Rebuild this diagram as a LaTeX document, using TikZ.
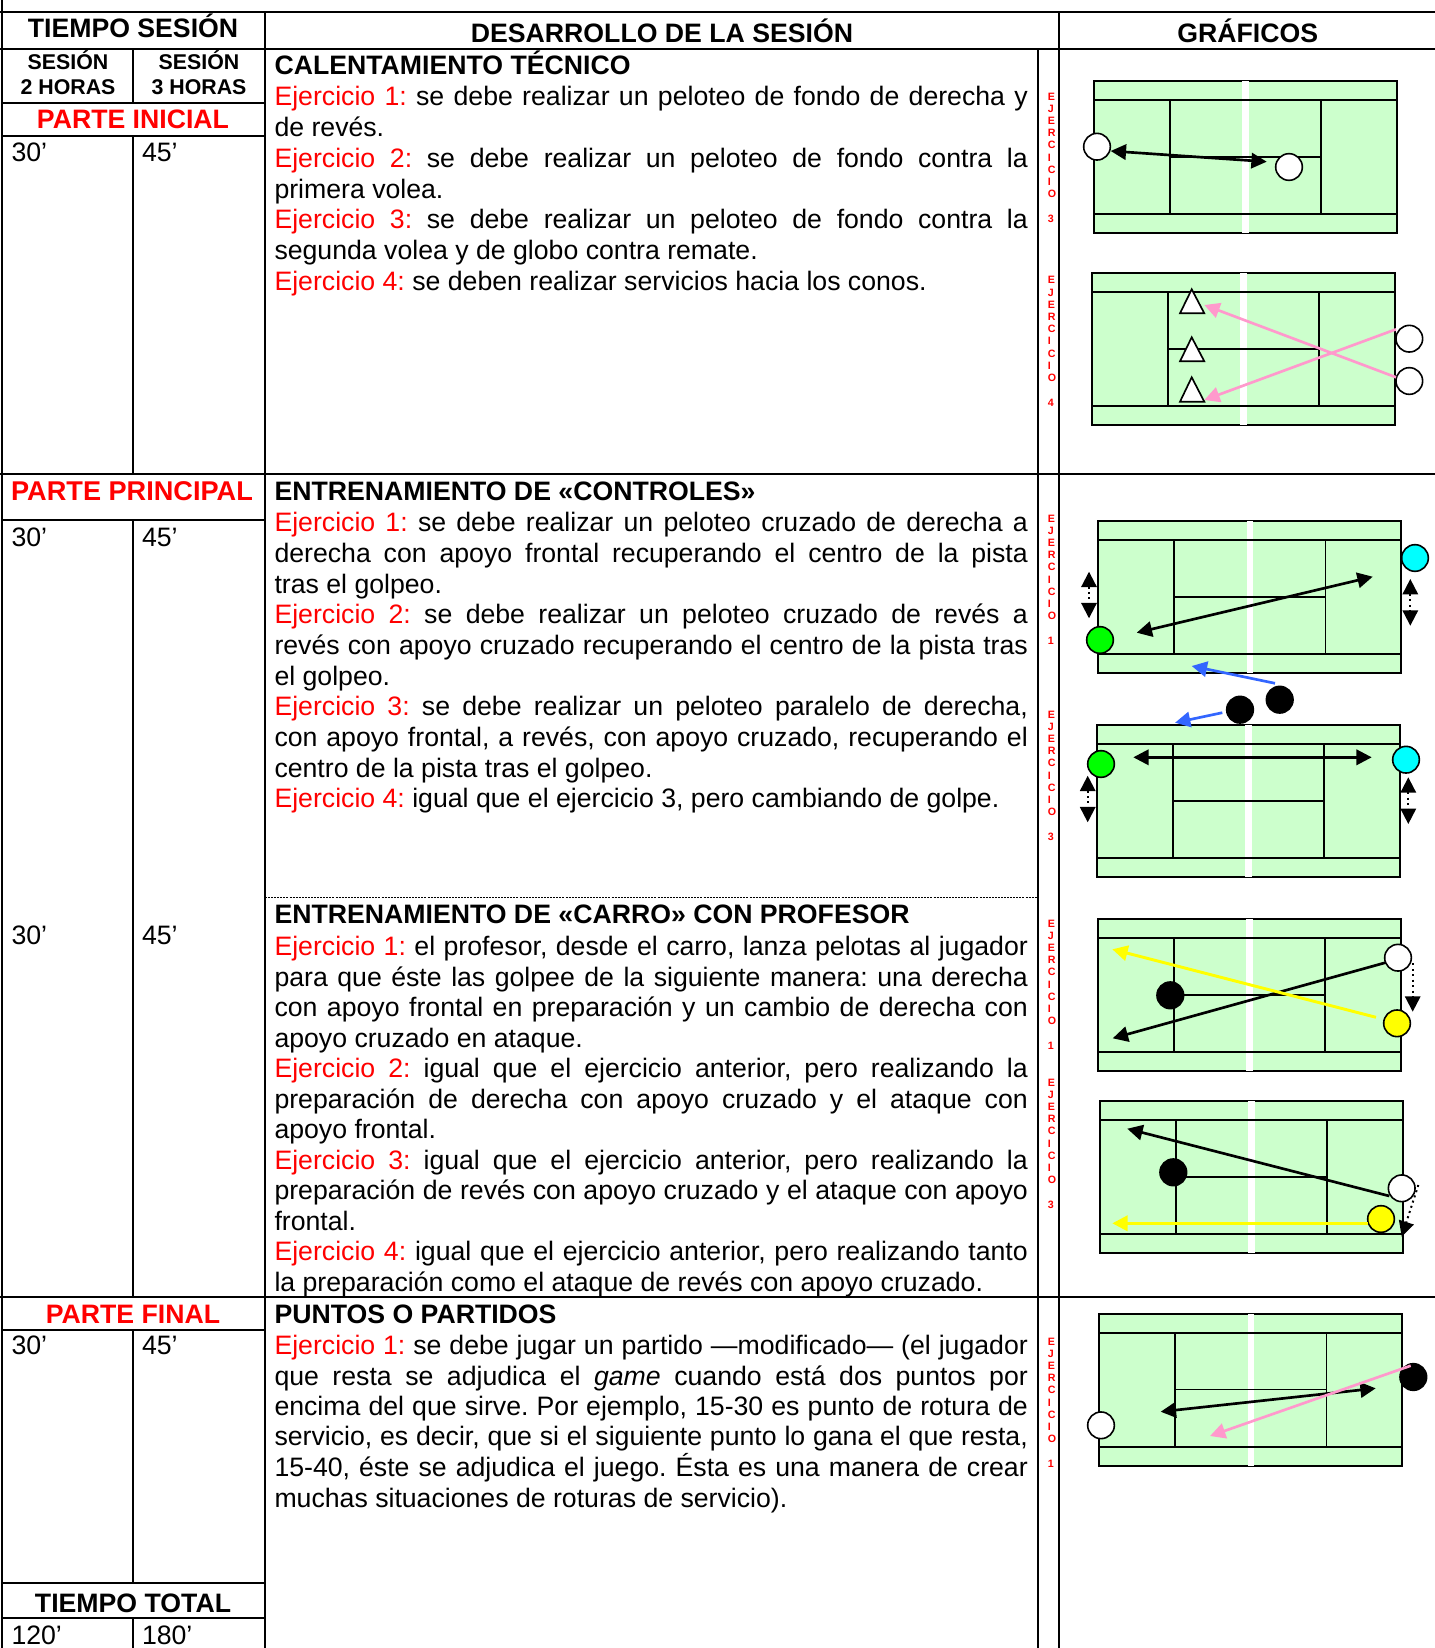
\documentclass[tikz,border=0pt]{standalone}
\usepackage{fontspec}
\setmainfont{Liberation Sans}
\usetikzlibrary{arrows.meta,shapes.geometric}
\definecolor{courtgreen}{HTML}{CCFFCC}
\definecolor{shotpink}{HTML}{FF99CC}
\definecolor{shotblue}{HTML}{3366FF}
\definecolor{cyanp}{HTML}{00FFFF}
\definecolor{greenp}{HTML}{00FF00}
\definecolor{yellowp}{HTML}{FFFF00}
\definecolor{redt}{HTML}{FF0000}
\frenchspacing
\tikzset{
  x=0.75pt,y=-0.75pt,
  rule/.style={line width=1.5pt,line cap=rect},
  txt/.style={anchor=base west,inner sep=0pt,outer sep=0pt,font=\fontsize{20}{23}\selectfont\frenchspacing},
  ctxt/.style={anchor=base,inner sep=0pt,outer sep=0pt,font=\fontsize{20}{23}\selectfont\bfseries},
  small/.style={anchor=base,inner sep=0pt,outer sep=0pt,font=\fontsize{16}{18}\selectfont\bfseries},
  courtline/.style={line width=1.25pt,draw=black},
  player/.style={circle,draw=black,line width=1.2pt,minimum size=20pt,inner sep=0pt,outer sep=0pt,fill=white},
  cone/.style={line width=1.25pt,draw=black,fill=white,line join=miter},
  shot/.style={line width=2pt,-{Triangle[length=11.5pt,width=11.5pt]},draw=black},
  dshot/.style={line width=2pt,{Triangle[length=11.5pt,width=11.5pt]}-{Triangle[length=11.5pt,width=11.5pt]},draw=black},
  pshot/.style={line width=2pt,-{Triangle[length=11.5pt,width=11.5pt]},draw=shotpink},
  yshot/.style={line width=2.2pt,-{Triangle[length=11.5pt,width=11.5pt]},draw=yellowp},
  bshot/.style={line width=2pt,-{Triangle[length=11.5pt,width=11.5pt]},draw=shotblue},
  move/.style={line width=1.5pt,dash pattern=on 1.5pt off 2.6pt,draw=black,-{Triangle[length=11.5pt,width=11.5pt]}},
  dmove/.style={line width=1.5pt,dash pattern=on 1.5pt off 2.6pt,draw=black,{Triangle[length=11.5pt,width=11.5pt]}-{Triangle[length=11.5pt,width=11.5pt]}},
}
\newcommand{\JL}[2]{\node[txt] at (274.5,#1) {\makebox[565pt][s]{#2}};}
\newcommand{\PL}[2]{\node[txt] at (274.5,#1) {#2};}
\newcommand{\HD}[2]{\node[txt,font=\fontsize{20}{23}\selectfont\bfseries] at (274.5,#1) {#2};}
\newcommand{\Ej}[1]{\textcolor{redt}{Ejercicio #1:}}
\newcommand{\court}[2]{%
  \begin{scope}[shift={(#1,#2)}]
    \fill[courtgreen] (0,0) rectangle (303,152);
    \draw[courtline] (0,0) rectangle (303,152);
    \fill[white] (148.4,0) rectangle (155,152);
    \draw[courtline] (0,19) -- (303,19) (0,133) -- (303,133)
      (76,19) -- (76,133) (227.3,19) -- (227.3,133) (76,75.7) -- (227.3,75.7);
  \end{scope}}
\newcommand{\VL}[2]{%
  \begin{scope}[shift={(1047.7,#1)}]
    \foreach \ch [count=\i from 0] in {E,J,E,R,C,I,C,I,O}{
      \node[anchor=base west,inner sep=0pt,text=redt,font=\fontsize{8}{9}\selectfont\bfseries] at (0,3.8+12.2*\i) {\ch};}
    \node[anchor=base west,inner sep=0pt,text=redt,font=\fontsize{8}{9}\selectfont\bfseries] at (0,3.8+122.5) {#2};
  \end{scope}}
\begin{document}
\begin{tikzpicture}
\useasboundingbox (0,0) rectangle (1434,1648);
\fill[white] (0,0) rectangle (1434,1648);
% table rules
\draw[rule] (2,0) -- (2,1648);
\draw[rule] (0,12) -- (1434,12);
\draw[rule] (0,49) -- (1434,49);
\draw[rule] (2,103) -- (265,103);
\draw[rule] (2,136) -- (265,136);
\draw[rule] (0,474) -- (1434,474);
\draw[rule] (2,520) -- (265,520);
\draw[rule] (0,1297) -- (1434,1297);
\draw[rule] (2,1330) -- (265,1330);
\draw[rule] (2,1583) -- (265,1583);
\draw[rule] (2,1618) -- (265,1618);
\draw[rule] (265,12) -- (265,1648);
\draw[rule] (1059,12) -- (1059,1648);
\draw[rule] (1038,49) -- (1038,1648);
\draw[rule] (133,49) -- (133,103);
\draw[rule] (133,136) -- (133,474);
\draw[rule] (133,520) -- (133,1297);
\draw[rule] (133,1330) -- (133,1583);
\draw[rule] (133,1618) -- (133,1648);
\draw[line width=0.6pt,dash pattern=on 1.5pt off 0.8pt] (265,897) -- (1038,897);
% headers
\node[ctxt] (h1) at (133,38) {TIEMPO SESIÓN};
\node[ctxt] (h2) at (662,42.9) {DESARROLLO DE LA SESIÓN};
\node[ctxt] (h3) at (1247.7,42.9) {GRÁFICOS};
\node[small] (s1) at (68,70) {SESIÓN};
\node[small] (s2) at (68,95) {2 HORAS};
\node[small] (s3) at (199,70) {SESIÓN};
\node[small] (s4) at (199,95) {3 HORAS};
\node[ctxt,text=redt] (p1) at (133,128.3) {PARTE INICIAL};
\node[ctxt,text=redt,font=\fontsize{20.35}{23}\selectfont\bfseries] (p2) at (132,500.5) {PARTE PRINCIPAL};
\node[ctxt,text=redt] (p3) at (133,1323.5) {PARTE FINAL};
\node[ctxt] (tt) at (133,1612.5) {TIEMPO TOTAL};
\foreach \yy/\nm in {161.7/a,546/b,944/c,1354.6/d}{
  \node[txt] (m30\nm) at (11.5,\yy) {30’};
  \node[txt] (m45\nm) at (142,\yy) {45’};}
\node[txt] (m120) at (11.5,1644) {120’};
\node[txt] (m180) at (142,1644) {180’};
% section 1
\HD{75}{CALENTAMIENTO TÉCNICO}
\JL{105.7}{\Ej{1} se debe realizar un peloteo de fondo de derecha y}
\PL{136.5}{de revés.}
\JL{167.2}{\Ej{2} se debe realizar un peloteo de fondo contra la}
\PL{198}{primera volea.}
\JL{228.8}{\Ej{3} se debe realizar un peloteo de fondo contra la}
\PL{259.6}{segunda volea y de globo contra remate.}
\PL{290.3}{\Ej{4} se deben realizar servicios hacia los conos.}
% section 2
\HD{500.5}{ENTRENAMIENTO DE «CONTROLES»}
\JL{531.8}{\Ej{1} se debe realizar un peloteo cruzado de derecha a}
\JL{562.4}{derecha con apoyo frontal recuperando el centro de la pista}
\PL{593.1}{tras el golpeo.}
\JL{623.7}{\Ej{2} se debe realizar un peloteo cruzado de revés a}
\JL{654.4}{revés con apoyo cruzado recuperando el centro de la pista tras}
\PL{685}{el golpeo.}
\JL{715.7}{\Ej{3} se debe realizar un peloteo paralelo de derecha,}
\JL{746.3}{con apoyo frontal, a revés, con apoyo cruzado, recuperando el}
\PL{777}{centro de la pista tras el golpeo.}
\PL{807.7}{\Ej{4} igual que el ejercicio 3, pero cambiando de golpe.}
% section 3
\HD{923}{ENTRENAMIENTO DE «CARRO» CON PROFESOR}
\JL{955.5}{\Ej{1} el profesor, desde el carro, lanza pelotas al jugador}
\JL{986}{para que éste las golpee de la siguiente manera: una derecha}
\JL{1016.5}{con apoyo frontal en preparación y un cambio de derecha con}
\PL{1047}{apoyo cruzado en ataque.}
\JL{1077.5}{\Ej{2} igual que el ejercicio anterior, pero realizando la}
\JL{1108}{preparación de derecha con apoyo cruzado y el ataque con}
\PL{1138.5}{apoyo frontal.}
\JL{1169}{\Ej{3} igual que el ejercicio anterior, pero realizando la}
\JL{1199.5}{preparación de revés con apoyo cruzado y el ataque con apoyo}
\PL{1230}{frontal.}
\JL{1260.5}{\Ej{4} igual que el ejercicio anterior, pero realizando tanto}
\PL{1291}{la preparación como el ataque de revés con apoyo cruzado.}
% section 4
\HD{1323.5}{PUNTOS O PARTIDOS}
\JL{1354.6}{\Ej{1} se debe jugar un partido —modificado— (el jugador}
\JL{1385}{que resta se adjudica el \textit{game} cuando está dos puntos por}
\JL{1415.4}{encima del que sirve. Por ejemplo, 15-30 es punto de rotura de}
\JL{1445.9}{servicio, es decir, que si el siguiente punto lo gana el que resta,}
\JL{1476.4}{15-40, éste se adjudica el juego. Ésta es una manera de crear}
\PL{1507}{muchas situaciones de roturas de servicio).}
% vertical labels
\VL{96.3}{3}
\VL{280}{4}
\VL{518.3}{1}
\VL{714.3}{3}
\VL{923.3}{1}
\VL{1082.3}{3}
\VL{1341.3}{1}
% court A
\court{1093.7}{81}
\draw[dshot] (1110.7,151) -- (1266.7,161.7);
\node[player] (a1) at (1097,146.7) {};
\node[player] (a2) at (1289,167) {};
% court B
\court{1092}{273.3}
\draw[cone] (1191.7,289.3) -- (1204.3,313.3) -- (1180,313.3) -- cycle;
\draw[cone] (1191.7,337.3) -- (1204.3,361.3) -- (1180,361.3) -- cycle;
\draw[cone] (1191.7,377.3) -- (1204.3,401.7) -- (1180,401.7) -- cycle;
\node[player] (b1) at (1409.3,338.7) {};
\node[player] (b2) at (1409.3,381) {};
\draw[pshot] (1396,377.3) -- (1204.3,305);
\draw[pshot] (1396,329.3) -- (1204.3,400);
% court C
\court{1098.3}{521}
\draw[dshot] (1136.7,632.7) -- (1372.7,576.7);
\node[player,fill=cyanp] (c1) at (1415,558) {};
\node[player,fill=greenp] (c2) at (1100,640) {};
\draw[dmove] (1089,571.7) -- (1089,618.3);
\draw[dmove] (1410.3,579) -- (1410.3,625.7);
% court D
\court{1097}{725.3}
\draw[dshot] (1133.3,757.3) -- (1371.7,757.3);
\node[player,fill=greenp] (d1) at (1101,764) {};
\node[player,fill=cyanp] (d2) at (1406,759.7) {};
\draw[dmove] (1087.7,775.7) -- (1087.7,822.3);
\draw[dmove] (1408.3,777.3) -- (1408.3,824);
% blue shots and coaches
\node[player,fill=black] (k1) at (1279.7,699.7) {};
\node[player,fill=black] (k2) at (1240,709.7) {};
\draw[bshot] (1275,683.3) -- (1191.7,666);
\draw[bshot] (1222.3,712.7) -- (1175,722.7);
% court E
\court{1097.7}{919}
\draw[shot] (1386.7,962.3) -- (1112.7,1038.3);
\draw[yshot] (1376,1017.3) -- (1112.3,949.3);
\node[player] (e1) at (1398,957.7) {};
\node[player,fill=yellowp] (e2) at (1397,1023.3) {};
\node[player,fill=black] (e3) at (1170.3,995.3) {};
\draw[move] (1412.7,963.3) -- (1412.7,1011.7);
% court F
\court{1100}{1101}
\draw[shot] (1389.3,1196) -- (1127.3,1128.7);
\node[player] (f1) at (1401.7,1188.3) {};
\node[player,fill=yellowp] (f2) at (1381,1219) {};
\node[player,fill=black] (f3) at (1173.3,1172.3) {};
\draw[yshot] (1368.3,1223.3) -- (1112.3,1223.3);
\draw[move] (1418.3,1185) -- (1401.7,1236.7);
% court G
\court{1099.3}{1313.7}
\draw[dshot] (1160.7,1411.7) -- (1375.7,1388.3);
\node[player] (g1) at (1101,1425.3) {};
\node[player,fill=black] (g2) at (1413.3,1377) {};
\draw[pshot] (1410.7,1365.7) -- (1210,1436);
\end{tikzpicture}
\end{document}
